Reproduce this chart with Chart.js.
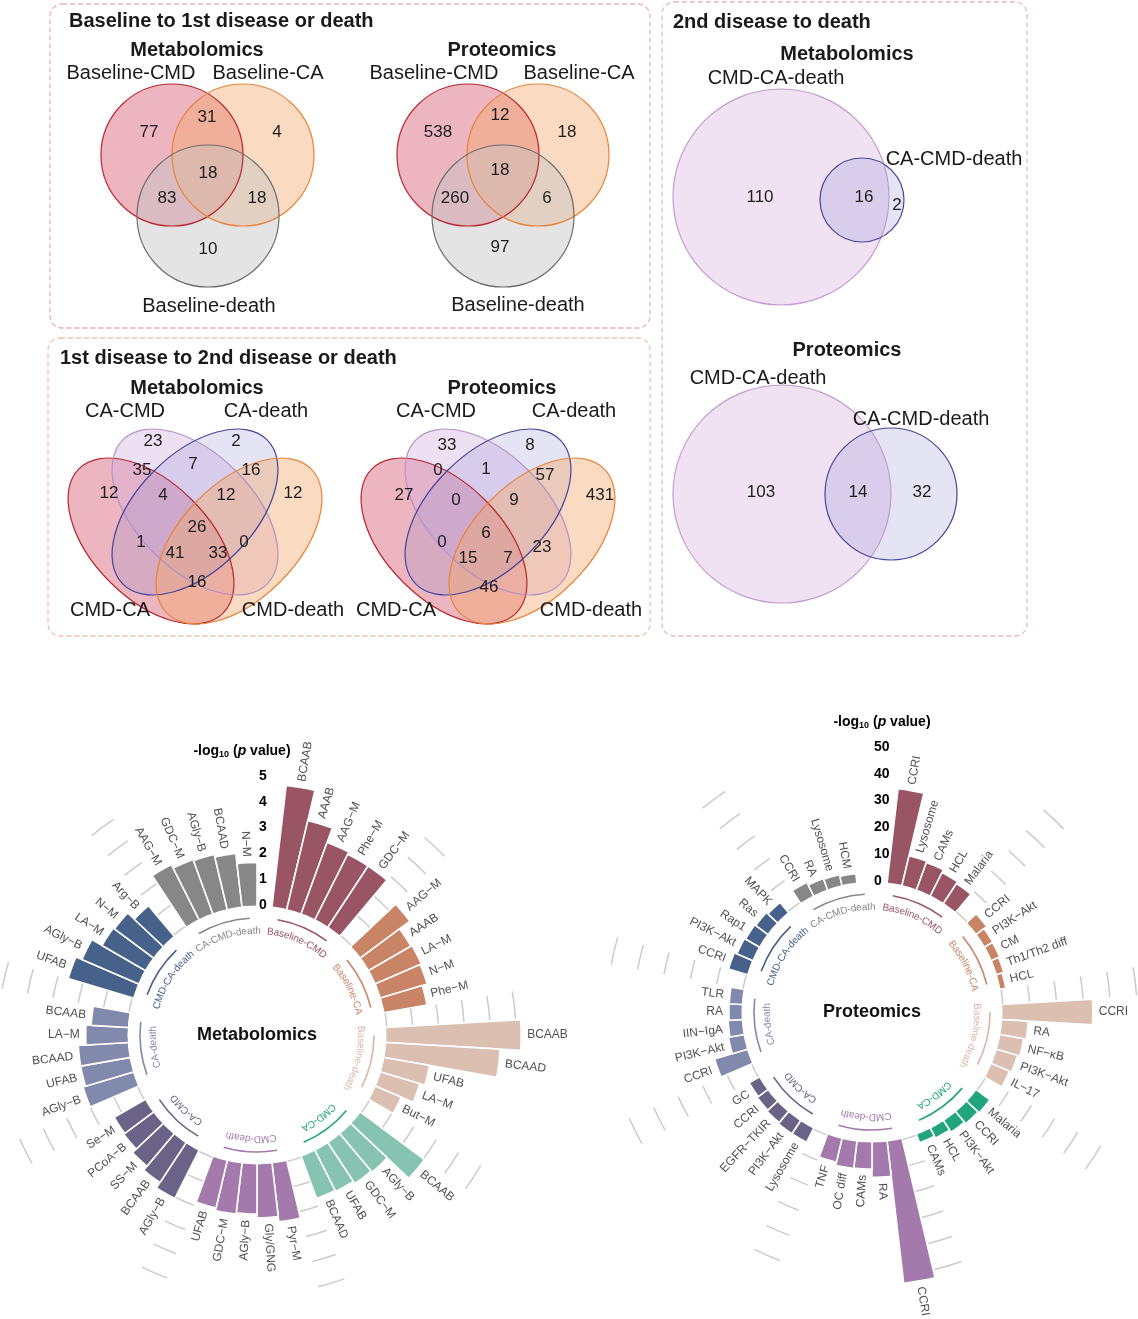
<!DOCTYPE html>
<html>
<head>
<meta charset="utf-8">
<title>Venn diagrams and circular enrichment plots</title>
<script src="https://cdn.jsdelivr.net/npm/chart.js@4.4.1/dist/chart.umd.min.js"></script>
<style>
  html, body { margin: 0; padding: 0; background: #fff; }
  #page { position: relative; width: 1138px; height: 1319px; overflow: hidden;
          font-family: "Liberation Sans", Arial, sans-serif; color: #1a1a1a; }
  canvas { position: absolute; }
  .hd { position: absolute; white-space: nowrap; line-height: 1; transform: translateY(-50%);
        font-size: 20px; font-weight: bold; }
  .sub { position: absolute; white-space: nowrap; line-height: 1; transform: translate(-50%, -50%);
         font-size: 20px; font-weight: bold; }
  .lbl { position: absolute; white-space: nowrap; line-height: 1; transform: translate(-50%, -50%);
         font-size: 20px; }
</style>
</head>
<body>
<div id="page">
  <canvas id="venn" width="1138" height="650" style="left:0;top:0;width:1138px;height:650px"></canvas>
  <canvas id="met" width="590" height="629" style="left:-20px;top:690px;width:590px;height:629px"></canvas>
  <canvas id="prot" width="568" height="629" style="left:570px;top:690px;width:568px;height:629px"></canvas>

  <div class="hd" style="left:69px;top:20px">Baseline to 1st disease or death</div>
  <div class="hd" style="left:60px;top:357px">1st disease to 2nd disease or death</div>
  <div class="hd" style="left:673px;top:21px">2nd disease to death</div>

  <div class="sub" style="left:197px;top:49px">Metabolomics</div>
  <div class="sub" style="left:502px;top:49px">Proteomics</div>
  <div class="sub" style="left:197px;top:387px">Metabolomics</div>
  <div class="sub" style="left:502px;top:387px">Proteomics</div>
  <div class="sub" style="left:847px;top:53px">Metabolomics</div>
  <div class="sub" style="left:847px;top:349px">Proteomics</div>

  <div class="lbl" style="left:131px;top:72px">Baseline-CMD</div>
  <div class="lbl" style="left:268px;top:72px">Baseline-CA</div>
  <div class="lbl" style="left:209px;top:305px">Baseline-death</div>
  <div class="lbl" style="left:434px;top:72px">Baseline-CMD</div>
  <div class="lbl" style="left:579px;top:72px">Baseline-CA</div>
  <div class="lbl" style="left:518px;top:304px">Baseline-death</div>

  <div class="lbl" style="left:125px;top:410px">CA-CMD</div>
  <div class="lbl" style="left:266px;top:410px">CA-death</div>
  <div class="lbl" style="left:110px;top:609px">CMD-CA</div>
  <div class="lbl" style="left:293px;top:609px">CMD-death</div>
  <div class="lbl" style="left:436px;top:410px">CA-CMD</div>
  <div class="lbl" style="left:574px;top:410px">CA-death</div>
  <div class="lbl" style="left:396px;top:609px">CMD-CA</div>
  <div class="lbl" style="left:591px;top:609px">CMD-death</div>

  <div class="lbl" style="left:776px;top:77px">CMD-CA-death</div>
  <div class="lbl" style="left:954px;top:158px">CA-CMD-death</div>
  <div class="lbl" style="left:758px;top:377px">CMD-CA-death</div>
  <div class="lbl" style="left:921px;top:418px">CA-CMD-death</div>
</div>

<script>
// ---------- Venn counts ----------
// 3-set: CMD only, CMD&CA, CA only, all, CMD&death, CA&death, death only
const baseMetCounts = [77, 31, 4, 18, 83, 18, 10];
const baseProtCounts = [538, 12, 18, 18, 260, 6, 97];
// 4-set regions, read top to bottom
const firstMetCounts = [23, 2, 35, 7, 16, 12, 4, 12, 12, 26, 1, 0, 41, 33, 16];
const firstProtCounts = [33, 8, 0, 1, 57, 27, 0, 9, 431, 6, 0, 23, 15, 7, 46];
// 2-set: CMD-CA-death only, both, CA-CMD-death only
const secondMetCounts = [110, 16, 2];
const secondProtCounts = [103, 14, 32];

// ---------- enrichment bars ----------
const groups = ['Baseline-CMD', 'Baseline-CA', 'Baseline-death', 'CMD-CA', 'CMD-death',
                'CA-CMD', 'CA-death', 'CMD-CA-death', 'CA-CMD-death'];

const metTerms = [
  ['BCAAB', 'AAAB', 'AAG\u2212M', 'Phe\u2212M', 'GDC\u2212M'],
  ['AAG\u2212M', 'AAAB', 'LA\u2212M', 'N\u2212M', 'Phe\u2212M'],
  ['BCAAB', 'BCAAD', 'UFAB', 'LA\u2212M', 'But\u2212M'],
  ['BCAAB', 'AGly\u2212B', 'GDC\u2212M', 'UFAB', 'BCAAD'],
  ['Pyr\u2212M', 'Gly/GNG', 'AGly\u2212B', 'GDC\u2212M', 'UFAB'],
  ['AGly\u2212B', 'BCAAB', 'SS\u2212M', 'PCoA\u2212B', 'Se\u2212M'],
  ['AGly\u2212B', 'UFAB', 'BCAAD', 'LA\u2212M', 'BCAAB'],
  ['UFAB', 'AGly\u2212B', 'LA\u2212M', 'N\u2212M', 'Arg\u2212B'],
  ['AAG\u2212M', 'GDC\u2212M', 'AGly\u2212B', 'BCAAD', 'N\u2212M']
];
const metValues = [
  [4.7, 3.5, 2.9, 2.8, 2.8],
  [2.35, 1.85, 1.9, 1.85, 1.65],
  [5.2, 4.4, 1.75, 1.55, 1.05],
  [3.05, 1.9, 1.85, 1.75, 1.7],
  [2.25, 2.05, 1.9, 1.95, 1.85],
  [2.05, 1.8, 1.6, 1.4, 1.35],
  [2.0, 1.9, 1.9, 1.6, 1.4],
  [2.6, 2.35, 1.9, 1.85, 1.5],
  [2.35, 2.2, 2.15, 2.05, 1.65]
];
const metTicks = [0, 1, 2, 3, 4, 5];

const protTerms = [
  ['CCRI', 'Lysosome', 'CAMs', 'HCL', 'Malaria'],
  ['CCRI', 'PI3K\u2212Akt', 'CM', 'Th1/Th2 diff', 'HCL'],
  ['CCRI', 'RA', 'NF\u2212\u03baB', 'PI3K\u2212Akt', 'IL\u221217'],
  ['Malaria', 'CCRI', 'PI3K\u2212Akt', 'HCL', 'CAMs'],
  ['CCRI', 'RA', 'CAMs', 'OC diff', 'TNF'],
  ['Lysosome', 'PI3K\u2212Akt', 'EGFR\u2212TKIR', 'CCRI', 'GC'],
  ['CCRI', 'PI3K\u2212Akt', 'IIN\u2212IgA', 'RA', 'TLR'],
  ['CCRI', 'PI3K\u2212Akt', 'Rap1', 'Ras', 'MAPK'],
  ['CCRI', 'RA', 'Lysosome', 'HCM']
];
const protValues = [
  [35, 11, 10.5, 9.3, 8.5],
  [4.5, 3.2, 3.0, 2.5, 1.8],
  [33.5, 9.5, 8.6, 7.8, 7.0],
  [6.0, 5.5, 4.8, 3.8, 3.0],
  [53, 12.8, 9.7, 9.9, 8.7],
  [5.5, 5.5, 5.0, 4.5, 4.0],
  [12.4, 5.5, 4.9, 4.5, 4.5],
  [7.0, 6.0, 5.6, 5.2, 4.5],
  [5.3, 4.1, 3.8, 3.1]
];
const protTicks = [0, 10, 20, 30, 40, 50];

const metColors = ['#9a5564', '#c98466', '#dbbfb0', '#86c3b1', '#a47aac',
                   '#6a6387', '#8189ad', '#46628a', '#878787'];
const protColors = ['#9a5564', '#c98466', '#dbbfb0', '#22a57c', '#a47aac',
                    '#6a6387', '#8189ad', '#46628a', '#878787'];
const groupTextColors = ['#9a5564', '#c98466', '#d8b7a7', '#23a47c', '#a47aac',
                         '#6a6387', '#8189ad', '#46628a', '#878787'];

const FONT = '"Liberation Sans", Arial, sans-serif';
const RAD = Math.PI / 180;

// ---------- Venn layer ----------
const RED = {fill: 'rgba(214,92,112,0.45)', line: '#b8282e'};
const ORANGE = {fill: 'rgba(243,166,104,0.42)', line: '#e8843a'};
const GREY = {fill: 'rgba(196,196,196,0.45)', line: '#6e6e6e'};
const LILAC = {fill: 'rgba(204,160,214,0.30)', line: '#c49bd0'};
const INDIGO = {fill: 'rgba(130,130,205,0.22)', line: '#45459c'};
const PURPLE = {fill: 'rgba(212,178,224,0.40)', line: '#b592c4'};

const vennCircles = [
  {x: 172, y: 155, r: 71, s: RED}, {x: 243, y: 155, r: 71, s: ORANGE}, {x: 208, y: 216, r: 71, s: GREY},
  {x: 468, y: 155, r: 71, s: RED}, {x: 538, y: 155, r: 71, s: ORANGE}, {x: 503, y: 216, r: 71, s: GREY},
  {x: 781, y: 197, r: 108, s: LILAC}, {x: 862, y: 200, r: 42, s: INDIGO},
  {x: 782, y: 494, r: 109, s: LILAC}, {x: 891, y: 494, r: 66, s: INDIGO}
];
const vennEllipses = [];
[195, 488].forEach(cx => {
  vennEllipses.push({x: cx - 44, y: 541, a: 102, b: 58, rot: 45, s: RED});
  vennEllipses.push({x: cx, y: 512, a: 102, b: 58, rot: 45, s: PURPLE});
  vennEllipses.push({x: cx, y: 512, a: 102, b: 58, rot: -45, s: INDIGO});
  vennEllipses.push({x: cx + 44, y: 541, a: 102, b: 58, rot: -45, s: ORANGE});
});

const countSpots = [
  {counts: baseMetCounts, pos: [[149,132],[207,117],[277,132],[208,173],[167,198],[257,198],[208,249]]},
  {counts: baseProtCounts, pos: [[438,132],[500,115],[567,132],[500,170],[455,198],[547,198],[500,247]]},
  {counts: firstMetCounts, pos: [[153,441],[236,441],[142,470],[193,464],[251,470],[109,493],[163,495],
                                 [226,495],[293,493],[197,527],[141,542],[244,542],[175,553],[218,553],[197,582]]},
  {counts: firstProtCounts, pos: [[447,445],[530,445],[438,470],[486,469],[545,475],[404,495],[456,500],
                                  [514,500],[600,495],[486,533],[442,542],[542,547],[468,558],[508,558],[489,587]]},
  {counts: secondMetCounts, pos: [[760,197],[864,197],[897,205]]},
  {counts: secondProtCounts, pos: [[761,492],[858,492],[922,492]]}
];

const panelBoxes = [
  {x0: 50, y0: 4, x1: 650, y1: 328, color: '#eab0c2'},
  {x0: 48, y0: 338, x1: 650, y1: 636, color: '#f2c1a8'},
  {x0: 662, y0: 2, x1: 1027, y1: 636, color: '#e9b8c8'}
];

const vennPlugin = {
  id: 'vennExtras',
  beforeDatasetsDraw(chart) {
    const ctx = chart.ctx, xs = chart.scales.x, ys = chart.scales.y;
    ctx.save();
    ctx.setLineDash([5, 3]);
    ctx.lineWidth = 1.3;
    panelBoxes.forEach(b => {
      const x0 = xs.getPixelForValue(b.x0), x1 = xs.getPixelForValue(b.x1);
      const y0 = ys.getPixelForValue(b.y0), y1 = ys.getPixelForValue(b.y1);
      ctx.strokeStyle = b.color;
      ctx.beginPath();
      ctx.roundRect(x0, y0, x1 - x0, y1 - y0, 12);
      ctx.stroke();
    });
    ctx.setLineDash([]);
    // ellipses: fills first, outlines on top
    vennEllipses.forEach(e => {
      ctx.fillStyle = e.s.fill;
      ctx.beginPath();
      ctx.ellipse(xs.getPixelForValue(e.x), ys.getPixelForValue(e.y), e.a, e.b, e.rot * RAD, 0, 2 * Math.PI);
      ctx.fill();
    });
    ctx.lineWidth = 1.2;
    vennEllipses.forEach(e => {
      ctx.strokeStyle = e.s.line;
      ctx.beginPath();
      ctx.ellipse(xs.getPixelForValue(e.x), ys.getPixelForValue(e.y), e.a, e.b, e.rot * RAD, 0, 2 * Math.PI);
      ctx.stroke();
    });
    ctx.restore();
  },
  afterDatasetsDraw(chart) {
    const ctx = chart.ctx, xs = chart.scales.x, ys = chart.scales.y;
    ctx.save();
    ctx.font = '17px ' + FONT;
    ctx.fillStyle = '#1e1e1e';
    ctx.textAlign = 'center';
    ctx.textBaseline = 'middle';
    countSpots.forEach(set => {
      set.counts.forEach((c, i) => {
        const p = set.pos[i];
        ctx.fillText(String(c), xs.getPixelForValue(p[0]), ys.getPixelForValue(p[1]));
      });
    });
    ctx.restore();
  }
};

new Chart(document.getElementById('venn'), {
  type: 'bubble',
  data: {
    datasets: [
      { // outlines on top
        data: vennCircles.map(c => ({x: c.x, y: c.y, r: c.r})),
        backgroundColor: 'rgba(0,0,0,0)',
        borderColor: vennCircles.map(c => c.s.line),
        borderWidth: 1.2,
        clip: false
      },
      {
        data: vennCircles.map(c => ({x: c.x, y: c.y, r: c.r})),
        backgroundColor: vennCircles.map(c => c.s.fill),
        borderWidth: 0,
        clip: false
      }
    ]
  },
  options: {
    responsive: false,
    animation: false,
    layout: {autoPadding: false, padding: 0},
    plugins: {legend: {display: false}, tooltip: {enabled: false}},
    scales: {
      x: {type: 'linear', min: 0, max: 1138, display: false},
      y: {type: 'linear', min: 0, max: 650, reverse: true, display: false}
    },
    elements: {point: {hoverRadius: 0}}
  },
  plugins: [vennPlugin]
});

// ---------- circular bar charts ----------
function buildSlots(terms, values) {
  const slots = [{gap: true}];
  groups.forEach((g, gi) => {
    for (let j = 0; j < 5; j++) {
      slots.push({gap: false, group: gi, term: terms[gi][j], value: values[gi][j]});
    }
    if (gi < groups.length - 1) slots.push({gap: true});
  });
  return slots;
}

function drawAxisTitle(ctx, x, y) {
  const parts = [
    ['-log', 'bold 14px ' + FONT, 0],
    ['10', 'bold 9px ' + FONT, 4],
    [' (', 'bold 14px ' + FONT, 0],
    ['p', 'italic bold 14px ' + FONT, 0],
    [' value)', 'bold 14px ' + FONT, 0]
  ];
  let w = 0;
  parts.forEach(p => { ctx.font = p[1]; w += ctx.measureText(p[0]).width; });
  let cur = x - w / 2;
  ctx.textAlign = 'left';
  ctx.textBaseline = 'middle';
  ctx.fillStyle = '#000';
  parts.forEach(p => {
    ctx.font = p[1];
    ctx.fillText(p[0], cur, y + p[2]);
    cur += ctx.measureText(p[0]).width;
  });
}

function circularChart(canvasId, cfg) {
  const slots = buildSlots(cfg.terms, cfg.values);
  const canvas = document.getElementById(canvasId);
  const W = canvas.width, H = canvas.height;
  const minV = cfg.min;

  const plugin = {
    id: 'circ_' + canvasId,
    afterDatasetsDraw(chart) {
      const ctx = chart.ctx;
      const scale = chart.scales.r;
      const cx = scale.xCenter, cy = scale.yCenter;
      const rv = v => scale.getDistanceFromCenterForValue(v);
      const arcs = chart.getDatasetMeta(0).data;
      const r0 = rv(0);
      ctx.save();

      // inner hole
      ctx.fillStyle = '#fff';
      ctx.beginPath();
      ctx.arc(cx, cy, r0 - 0.5, 0, 2 * Math.PI);
      ctx.fill();

      // grid pieces inside the gaps between groups
      ctx.strokeStyle = '#cbcbcb';
      ctx.lineWidth = 1.5;
      slots.forEach((s, i) => {
        if (!s.gap || i === 0) return;
        const el = arcs[i];
        cfg.ticks.forEach(t => {
          ctx.beginPath();
          ctx.arc(cx, cy, rv(t), el.startAngle + 0.3 * RAD, el.endAngle - 0.3 * RAD);
          ctx.stroke();
        });
      });

      // group arcs and curved group names
      groups.forEach((g, gi) => {
        const first = arcs[1 + gi * 6], last = arcs[5 + gi * 6];
        const a0 = first.startAngle, a1 = last.endAngle;
        ctx.strokeStyle = groupTextColors[gi];
        ctx.lineWidth = 1.6;
        ctx.beginPath();
        ctx.arc(cx, cy, r0 - 13, a0 + 3.5 * RAD, a1 - 3.5 * RAD);
        ctx.stroke();

        ctx.font = '10px ' + FONT;
        ctx.fillStyle = groupTextColors[gi];
        ctx.textAlign = 'center';
        ctx.textBaseline = 'middle';
        const rt = r0 - 26;
        const total = ctx.measureText(g).width;
        let acc = -total / 2;
        const mid = (a0 + a1) / 2;
        for (const ch of g) {
          const cw = ctx.measureText(ch).width;
          const ang = mid + (acc + cw / 2) / rt;
          ctx.save();
          ctx.translate(cx, cy);
          ctx.rotate(ang + Math.PI / 2);
          ctx.fillText(ch, 0, -rt);
          ctx.restore();
          acc += cw;
        }
      });

      // bar labels
      ctx.font = '12px ' + FONT;
      ctx.fillStyle = '#505050';
      ctx.textBaseline = 'middle';
      slots.forEach((s, i) => {
        if (s.gap || s.value == null) return;
        const el = arcs[i];
        const mid = (el.startAngle + el.endAngle) / 2;
        const r = rv(s.value) + 6;
        const clock = (((mid + Math.PI / 2) % (2 * Math.PI)) + 2 * Math.PI) % (2 * Math.PI);
        ctx.save();
        ctx.translate(cx + r * Math.cos(mid), cy + r * Math.sin(mid));
        if (clock < Math.PI) { ctx.rotate(mid); ctx.textAlign = 'left'; }
        else { ctx.rotate(mid + Math.PI); ctx.textAlign = 'right'; }
        ctx.fillText(s.term, 0, 0);
        ctx.restore();
      });

      // radial axis labels in the top gap
      ctx.font = 'bold 14px ' + FONT;
      ctx.fillStyle = '#000';
      ctx.textAlign = 'left';
      ctx.textBaseline = 'middle';
      cfg.ticks.forEach(t => ctx.fillText(String(t), cx + 2, cy - rv(t)));
      drawAxisTitle(ctx, cx + cfg.titleDx, cy - rv(cfg.ticks[cfg.ticks.length - 1]) - 25);

      // centre title
      ctx.font = 'bold 18px ' + FONT;
      ctx.fillStyle = '#111';
      ctx.textAlign = 'center';
      ctx.fillText(cfg.title, cx, cy);
      ctx.restore();
    }
  };

  const R = cfg.radius;
  new Chart(canvas, {
    type: 'polarArea',
    data: {
      labels: slots.map(s => s.term || ''),
      datasets: [{
        data: slots.map(s => (s.value == null ? minV : s.value)),
        backgroundColor: slots.map(s => (s.value == null ? 'rgba(0,0,0,0)' : cfg.colors[s.group])),
        borderColor: slots.map(s => (s.value == null ? 'rgba(0,0,0,0)' : '#ffffff')),
        borderWidth: 1.6
      }]
    },
    options: {
      responsive: false,
      animation: false,
      layout: {padding: {left: cfg.cx - R, right: W - cfg.cx - R, top: cfg.cy - R, bottom: H - cfg.cy - R}},
      plugins: {legend: {display: false}, tooltip: {enabled: false}},
      scales: {r: {min: minV, max: cfg.max, display: false}}
    },
    plugins: [plugin]
  });
}

// metabolomics: centre at page (257,1035), canvas offset (-20,690)
circularChart('met', {
  terms: metTerms, values: metValues, ticks: metTicks, colors: metColors,
  title: 'Metabolomics', min: -5.04, max: 5, radius: 259, cx: 277, cy: 345, titleDx: -15
});
// proteomics: centre at page (872,1012), canvas offset (570,690)
circularChart('prot', {
  terms: protTerms, values: protValues, ticks: protTicks, colors: protColors,
  title: 'Proteomics', min: -48.9, max: 50, radius: 265, cx: 302, cy: 322, titleDx: 10
});
</script>
</body>
</html>
